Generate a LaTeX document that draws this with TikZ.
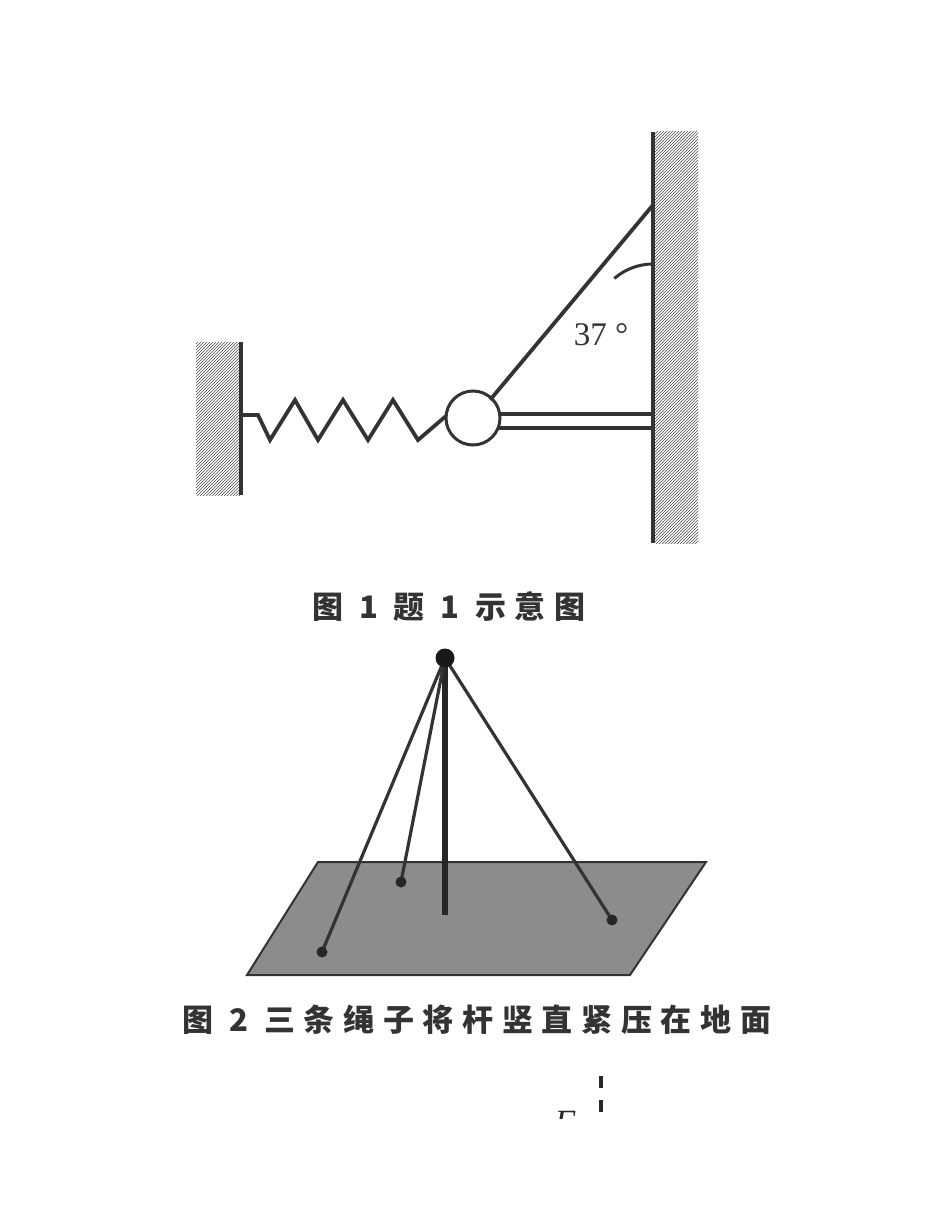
\documentclass[tikz,border=0pt]{standalone}
\usepackage{fontspec}
\newfontfamily\cjk[LetterSpace=28]{Noto Sans CJK SC}
\setmainfont{Liberation Serif}
\usetikzlibrary{patterns}
\begin{document}
\begin{tikzpicture}[x=1pt,y=-1pt,
  ln/.style={line width=3.8pt,black!80},
  hatch/.style={pattern=north east lines,pattern color=black!70},
  captxt/.style={font=\cjk\bfseries\fontsize{31}{34}\selectfont,text=black!80}]
\useasboundingbox (0,0) rectangle (950,1230);
% walls
\fill[hatch] (196,342) rectangle (240,495);
\draw[ln] (241,342) -- (241,495);
\fill[hatch] (655,132) rectangle (698,543);
\draw[ln] (653,132) -- (653,543);
% spring
\draw[ln,line join=miter] (241,415) -- (258,415) -- (270,440) -- (295,400) -- (318,440) -- (343,400) -- (368,440) -- (393,400) -- (418,440) -- (446,416);
% ball
\node[circle,draw,line width=3pt,black!80,minimum size=54pt,inner sep=0] (ball) at (473,418) {};
% rod
\draw[ln] (499,414) -- (653,414);
\draw[ln] (499,428) -- (653,428);
% string
\coordinate (top) at (653,205);
\draw[ln] (ball.north east) ++(-3,2) -- (top);
\draw[line width=3pt,black!80] (653,264) arc[start angle=-90,end angle=-131,radius=59];
\node[font=\fontsize{33}{36}\selectfont,text=black!80] (ang) at (601,335) {37 °};
\node[captxt] (c1) at (449,607) {图 1\ 题 1 示意图};
% fig 2
\fill[black!45] (318,862) -- (706,862) -- (630,975) -- (247,975) -- cycle;
\draw[line width=2pt,black!80] (318,862) -- (706,862) -- (630,975) -- (247,975) -- cycle;
\coordinate (apex) at (445,658);
\draw[line width=6pt,black!85] (apex) -- (445,915);
\foreach \p in {(322,952),(401,882),(612,920)}{
  \draw[line width=3.2pt,black!80] (apex) -- \p;
  \fill[black!85] \p circle (5.5);
}
\fill[black!90] (apex) circle (9.5);
\node[captxt] (c2) at (477,1020) {图 2\ 三条绳子将杆竖直紧压在地面};
% bottom partial
\begin{scope}
\clip (0,0) rectangle (950,1118);
\node[font=\itshape\fontsize{34}{36}\selectfont,text=black!85] (F) at (565,1122) {F};
\end{scope}
\draw[line width=3.5pt,black!85] (601,1076) -- (601,1088);
\draw[line width=3.5pt,black!85] (601,1100) -- (601,1112);
\end{tikzpicture}
\end{document}
